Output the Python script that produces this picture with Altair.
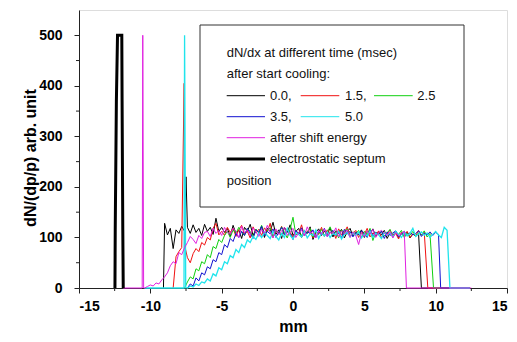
import altair as alt
import pandas as pd

# ---------------- data ----------------
STEP = 0.2  # sampling grid of the measured profiles (mm)

# t = 0.0 msec (black)
black_x0 = -9.0
black_y = [128, 105, 118, 78, 115, 108, 122, 112, 120, 108,
           125, 110, 118, 104, 126, 112, 120, 106, 138, 112,
           120, 110, 118, 102, 124, 108, 115, 98, 120, 112,
           126, 104, 116, 109, 122, 100, 118, 112, 130, 106,
           115, 98, 120, 110, 125, 104, 112, 118, 100, 114,
           108, 121, 96, 110, 117, 104, 112, 106, 119, 101,
           113, 108, 116, 99, 111, 118, 103, 110, 106, 115,
           100, 112, 107, 117, 102, 110, 105, 114, 98, 109,
           104, 112, 100, 108, 103, 111, 99, 107, 102, 108]
black_ex_x = [-9.08, -7.5, 9.0, 12.4]
black_ex_y = [0, 220, 0, 0]

# t = 1.5 msec (red)
red_x0 = -8.4
red_y = [0, 62, 72, 80, 85, 60, 50, 68, 78, 72,
         90, 85, 100, 95, 118, 128, 105, 112, 104, 120,
         110, 118, 102, 115, 124, 106, 112, 99, 121, 109,
         116, 104, 119, 111, 128, 100, 113, 108, 122, 105,
         117, 110, 101, 114, 107, 125, 103, 112, 118, 99,
         111, 106, 120, 102, 115, 109, 113, 98, 117, 105,
         110, 121, 103, 108, 114, 100, 112, 106, 118, 101,
         109, 104, 113, 99, 111, 107, 115, 102, 108, 97,
         110, 104, 112, 100, 107, 103, 114, 105, 110]
red_ex_x = [-7.63, 9.45, 12.4]
red_ex_y = [405, 0, 0]

# t = 2.5 msec (green)
green_x0 = -7.6
green_y = [0, 12, 22, 18, 38, 34, 52, 48, 66, 60,
           82, 78, 96, 90, 104, 112, 100, 115, 108, 120,
           110, 104, 118, 112, 100, 116, 109, 124, 106, 113,
           119, 102, 114, 108, 121, 110, 99, 117, 140, 105,
           110, 104, 113, 109, 118, 101, 112, 107, 116, 103,
           110, 121, 106, 112, 99, 115, 108, 117, 102, 111,
           107, 114, 100, 112, 105, 118, 94, 110, 106, 113,
           103, 109, 116, 101, 111, 106, 114, 100, 108, 104,
           112, 102, 109, 105, 113, 101, 108]
green_ex_x = [9.85, 12.4]
green_ex_y = [0, 0]

# t = 3.5 msec (blue)
blue_x0 = -7.4
blue_y = [0, 8, 4, 20, 14, 30, 26, 42, 38, 56,
          52, 70, 66, 86, 80, 98, 92, 108, 100, 112,
          104, 118, 108, 98, 115, 110, 122, 103, 112, 107,
          117, 100, 110, 120, 105, 113, 108, 96, 114, 106,
          119, 103, 111, 108, 115, 100, 112, 106, 118, 102,
          109, 114, 104, 111, 99, 116, 107, 112, 101, 110,
          105, 113, 108, 100, 115, 103, 110, 106, 112, 98,
          111, 104, 109, 113, 101, 107, 112, 103, 110, 105,
          108, 113, 102, 109, 105, 111, 104, 110, 106]
blue_ex_x = [10.35, 12.4]
blue_ex_y = [0, 0]

# t = 5.0 msec (cyan)
cyan_x0 = -7.4
cyan_y = [0, 4, 2, 8, 5, 12, 10, 18, 14, 28,
          24, 40, 36, 52, 48, 64, 60, 76, 70, 86,
          80, 95, 90, 102, 96, 108, 100, 110, 104, 98,
          112, 102, 95, 108, 100, 118, 104, 97, 110, 106,
          101, 113, 99, 107, 104, 115, 98, 109, 103, 111,
          100, 108, 105, 112, 97, 106, 110, 101, 109, 104,
          111, 99, 107, 103, 113, 100, 108, 105, 98, 110,
          104, 109, 101, 112, 106, 100, 110, 103, 108, 118,
          102, 107, 111, 104, 109, 100, 106, 112, 105, 100,
          120, 114]
cyan_ex_x = [-10.4, -7.64, -7.6, -7.52, 11.0, 12.4]
cyan_ex_y = [0, 0, 500, 0, 0, 0]

# after shift energy (magenta)
mag_x0 = -10.4
mag_y = [0, 3, 6, 4, 10, 8, 16, 22, 30, 44,
         52, 48, 70, 66, 80, 90, 102, 96, 88, 104,
         98, 110, 112, 102, 118, 108, 114, 104, 120, 110,
         106, 118, 112, 100, 122, 109, 115, 104, 119, 111,
         102, 116, 108, 124, 110, 99, 117, 106, 113, 120,
         104, 111, 118, 100, 109, 115, 103, 121, 108, 112,
         99, 114, 106, 117, 102, 110, 108, 119, 101, 113,
         107, 115, 100, 111, 104, 86, 109, 102, 113, 106,
         116, 100, 110, 114, 108, 104, 112, 99, 110, 103,
         108, 112]
mag_ex_x = [-11.9, -10.57, -10.53, -10.47, 7.95, 12.5]
mag_ex_y = [0, 0, 500, 0, 0, 0]

# electrostatic septum position (thick black)
sept_x = [-12.48, -12.46, -12.38, -12.3, -12.0, -11.98, -11.93, -11.9]
sept_y = [0, 115, 370, 500, 500, 370, 115, 0]

x_ticks = [-15, -10, -5, 0, 5, 10, 15]
x_minor = [-12.5, -7.5, -2.5, 2.5, 7.5, 12.5]
y_ticks = [0, 100, 200, 300, 400, 500]
y_minor = [50, 150, 250, 350, 450]

legend_title = ["dN/dx at different time (msec)", "after start cooling:"]
legend_labels = ["0.0,", "1.5,", "2.5", "3.5,", "5.0", "after shift energy", "electrostatic septum"]
legend_tail = "position"

# ---------------- build ----------------
def grid_df(x0, ys, ex, ey):
    xs = [round(x0 + STEP * i, 3) for i in range(len(ys))] + list(ex)
    return pd.DataFrame({"x": xs, "y": list(ys) + list(ey)})

COL = {"black": "#000000", "red": "#f01010", "green": "#10d010",
       "blue": "#1010d0", "cyan": "#20e4ec", "mag": "#e020e0"}

series = [
    (grid_df(black_x0, black_y, black_ex_x, black_ex_y), COL["black"], 1),
    (grid_df(red_x0, red_y, red_ex_x, red_ex_y), COL["red"], 1),
    (grid_df(green_x0, green_y, green_ex_x, green_ex_y), COL["green"], 1),
    (grid_df(blue_x0, blue_y, blue_ex_x, blue_ex_y), COL["blue"], 1),
    (grid_df(cyan_x0, cyan_y, cyan_ex_x, cyan_ex_y), COL["cyan"], 1.3),
    (grid_df(mag_x0, mag_y, mag_ex_x, mag_ex_y), COL["mag"], 1),
    (pd.DataFrame({"x": sept_x, "y": sept_y}), "#000000", 3),
]

FONT = "Arial"
X = alt.X("x:Q", scale=alt.Scale(domain=[-15, 15], nice=False, zero=False),
          axis=alt.Axis(values=x_ticks, title="mm", grid=False, tickSize=5,
                        labelPadding=6, labelFontSize=14, labelFontWeight="bold",
                        labelFont=FONT, labelColor="#000", labelExpr="toString(datum.value)",
                        titleFont=FONT, titleFontSize=16, titleFontWeight="bold",
                        titleColor="#000", titleY=43, titleBaseline="alphabetic",
                        domainColor="#222", tickColor="#222"))
Y = alt.Y("y:Q", scale=alt.Scale(domain=[0, 550], nice=False),
          axis=alt.Axis(values=y_ticks, title="dN/(dp/p) arb. unit", grid=False, tickSize=5,
                        labelPadding=12, labelFontSize=14, labelFontWeight="bold",
                        labelFont=FONT, labelColor="#000",
                        titleFont=FONT, titleFontSize=16, titleFontWeight="bold",
                        titleColor="#000", titleX=-49, titleY=147.5, titleAngle=270,
                        titleAlign="center", titleBaseline="middle",
                        domainColor="#222", tickColor="#222"))

layers = []
for df, c, w in series:
    layers.append(alt.Chart(df).mark_line(color=c, strokeWidth=w, strokeJoin="miter").encode(x=X, y=Y))

# minor ticks
layers.append(alt.Chart(pd.DataFrame({"x": x_minor})).mark_rule(color="#222", strokeWidth=1)
              .encode(x=X, y=alt.value(278), y2=alt.value(281)))
layers.append(alt.Chart(pd.DataFrame({"y": y_minor})).mark_rule(color="#222", strokeWidth=1)
              .encode(y=Y, x=alt.value(0), x2=alt.value(-3)))

one = alt.Data(values=[{"k": 1}])
# legend box
layers.append(alt.Chart(one).mark_rect(fill="white", stroke="#333", strokeWidth=1)
              .encode(x=alt.value(121), x2=alt.value(385), y=alt.value(15), y2=alt.value(197)))

TX0, TX1, TX2, TX3 = 147.7, 191, 266, 338.3
rows = [43.3, 64, 85.7, 106.7, 127.7, 149, 170.7]
text_items = [
    (legend_title[0], TX0, rows[0]),
    (legend_title[1], TX0, rows[1]),
    (legend_labels[0], TX1, rows[2]),
    (legend_labels[1], TX2, rows[2]),
    (legend_labels[2], TX3, rows[2]),
    (legend_labels[3], TX1, rows[3]),
    (legend_labels[4], TX2, rows[3]),
    (legend_labels[5], TX1, rows[4]),
    (legend_labels[6], TX1, rows[5]),
    (legend_tail, TX0, rows[6]),
]
for t, tx, ty in text_items:
    layers.append(alt.Chart(one).mark_text(align="left", baseline="middle", font=FONT,
                                           fontSize=13, color="#111")
                  .encode(x=alt.value(tx), y=alt.value(ty), text=alt.value(t)))

seg = [(147.7, 186), (221.7, 260.3), (295, 333.7)]
line_items = [
    (seg[0], rows[2], COL["black"], 1),
    (seg[1], rows[2], COL["red"], 1),
    (seg[2], rows[2], COL["green"], 1),
    (seg[0], rows[3], COL["blue"], 1),
    (seg[1], rows[3], COL["cyan"], 1),
    (seg[0], rows[4], COL["mag"], 1),
    (seg[0], rows[5], "#000000", 3),
]
for (a, b), ty, c, w in line_items:
    layers.append(alt.Chart(one).mark_rule(color=c, strokeWidth=w)
                  .encode(x=alt.value(a), x2=alt.value(b), y=alt.value(ty)))

chart = alt.layer(*layers).properties(
    width=428, height=278,
    padding={"left": 71, "top": 2, "right": 2, "bottom": 52},
    autosize=alt.AutoSizeParams(type="none"),
).configure_view(strokeWidth=0).configure(background="white")

chart.save("out.html", embed_options={"renderer": "svg", "actions": False})
